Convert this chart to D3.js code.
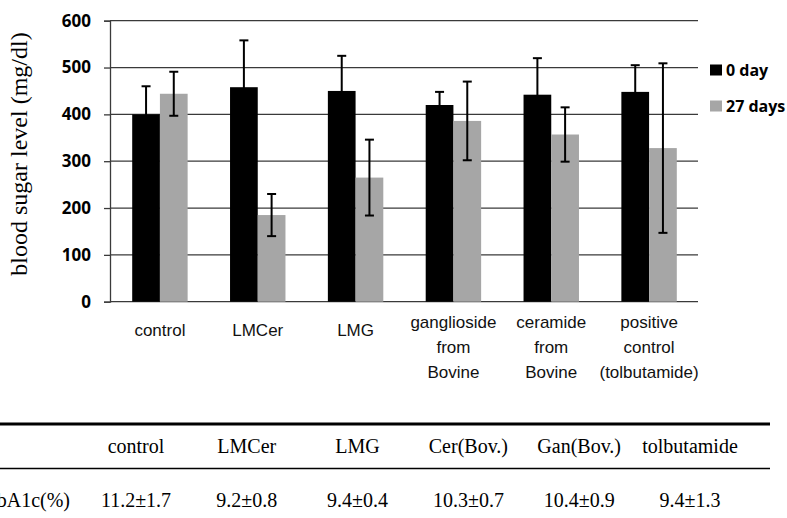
<!DOCTYPE html>
<html>
<head>
  <meta charset="UTF-8">
  <title>Blood sugar level</title>
  <style>
    body { margin: 0; background: #fff; }
    svg { display: block; }
    .tick text { font-family: "Open Sans", sans-serif; font-weight: bold; font-size: 17px; fill: #000; }
    .cat { font-family: "Liberation Sans", Arial, sans-serif; font-size: 17px; fill: #111; }
    .legend { font-family: "Open Sans", sans-serif; font-weight: bold; font-size: 16px; fill: #000; }
    .serif { font-family: "Liberation Serif", "Times New Roman", serif; fill: #000; }
  </style>
</head>
<body>
  <svg></svg>
  <script src="https://d3js.org/d3.v7.min.js"></script>
  <script>
    // chart data
    const categories = ["control", "LMCer", "LMG", "ganglioside from Bovine", "ceramide from Bovine", "positive control (tolbutamide)"];
    const categoryLines = [["control"], ["LMCer"], ["LMG"], ["ganglioside", "from", "Bovine"], ["ceramide", "from", "Bovine"], ["positive", "control", "(tolbutamide)"]];
    const seriesNames = ["0 day", "27 days"];
    const day0 = [400, 458, 450, 420, 442, 448];
    const day0Err = [60, 100, 75, 28, 78, 57];
    const day27 = [444, 185, 265, 386, 357, 328];
    const day27Err = [47, 45, 81, 84, 58, 181];
    const yTicks = [0, 100, 200, 300, 400, 500, 600];
    // HbA1c table
    const tableHeader = ["control", "LMCer", "LMG", "Cer(Bov.)", "Gan(Bov.)", "tolbutamide"];
    const tableValues = ["11.2±1.7", "9.2±0.8", "9.4±0.4", "10.3±0.7", "10.4±0.9", "9.4±1.3"];
    const tableRowLabel = "HbA1c(%)";

    let width = 787, height = 518;
    let svg = d3.select("svg").attr("width", width).attr("height", height);
    let colors = {"0 day": "#000000", "27 days": "#a6a6a6"};

    let y = d3.scaleLinear().domain([0, 600]).range([301.7, 20.7]);
    let x0 = d3.scaleBand().domain(categories).range([111, 698]);
    let x1 = d3.scaleBand().domain(seriesNames).range([0, x0.bandwidth()]).paddingOuter(0.765);

    // gridlines
    svg.append("g")
      .selectAll("line")
      .data(yTicks)
      .enter()
      .append("line")
      .attr("x1", 110).attr("x2", 698)
      .attr("y1", d => y(d)).attr("y2", d => y(d))
      .attr("stroke", "#3a3a3a")
      .attr("stroke-width", 1.3);

    // y axis
    let yAxis = svg.append("g")
      .attr("transform", "translate(110,0)")
      .call(d3.axisLeft(y).tickValues(yTicks).tickSize(6).tickPadding(13));
    yAxis.select(".domain").attr("stroke", "#3a3a3a").attr("stroke-width", 1.3);
    yAxis.selectAll(".tick line").attr("stroke", "#3a3a3a").attr("stroke-width", 1.3);

    svg.append("text")
      .attr("class", "serif")
      .attr("transform", "translate(27,154) rotate(-90)")
      .attr("text-anchor", "middle")
      .style("font-size", "24px")
      .text("blood sugar level (mg/dl)");

    // bars
    let rows = categories.map((c, i) => ({
      cat: c,
      vals: [
        {s: "0 day", v: day0[i], e: day0Err[i]},
        {s: "27 days", v: day27[i], e: day27Err[i]}
      ]
    }));
    let groups = svg.append("g")
      .selectAll("g")
      .data(rows)
      .enter()
      .append("g")
      .attr("transform", d => `translate(${x0(d.cat)},0)`);
    groups.selectAll("rect")
      .data(d => d.vals)
      .enter()
      .append("rect")
      .attr("x", d => x1(d.s))
      .attr("y", d => y(d.v))
      .attr("width", x1.bandwidth())
      .attr("height", d => y(0) - y(d.v))
      .attr("fill", d => colors[d.s]);

    // error bars
    let eb = groups.selectAll("g.err")
      .data(d => d.vals)
      .enter()
      .append("g")
      .attr("class", "err")
      .attr("stroke", "#000")
      .attr("stroke-width", 2);
    let cx = d => x1(d.s) + x1.bandwidth() / 2;
    eb.append("line")
      .attr("x1", cx).attr("x2", cx)
      .attr("y1", d => y(d.v + d.e)).attr("y2", d => y(d.v - d.e));
    eb.append("line")
      .attr("x1", d => cx(d) - 4.5).attr("x2", d => cx(d) + 4.5)
      .attr("y1", d => y(d.v + d.e)).attr("y2", d => y(d.v + d.e));
    eb.append("line")
      .attr("x1", d => cx(d) - 4.5).attr("x2", d => cx(d) + 4.5)
      .attr("y1", d => y(d.v - d.e)).attr("y2", d => y(d.v - d.e));

    // category labels
    let labels = svg.append("g")
      .selectAll("text")
      .data(categories)
      .enter()
      .append("text")
      .attr("class", "cat")
      .attr("text-anchor", "middle")
      .attr("x", d => x0(d) + x0.bandwidth() / 2)
      .attr("y", (d, i) => 336 - (categoryLines[i].length - 1) * 4);
    labels.selectAll("tspan")
      .data((d, i) => categoryLines[i])
      .enter()
      .append("tspan")
      .attr("x", function() { return d3.select(this.parentNode).attr("x"); })
      .attr("dy", (d, j) => j === 0 ? 0 : 25)
      .text(d => d);

    // legend
    let legend = svg.append("g")
      .selectAll("g")
      .data(seriesNames)
      .enter()
      .append("g")
      .attr("transform", (d, i) => `translate(710,${64.5 + i * 36})`);
    legend.append("rect")
      .attr("width", 12).attr("height", 11)
      .attr("fill", d => colors[d]);
    legend.append("text")
      .attr("class", "legend")
      .attr("x", 16).attr("y", 11.5)
      .text(d => d);

    // table
    let colX = d3.scalePoint().domain(tableHeader).range([136, 690]);
    svg.append("line")
      .attr("x1", 0).attr("x2", 770).attr("y1", 424).attr("y2", 424)
      .attr("stroke", "#000").attr("stroke-width", 3);
    svg.append("line")
      .attr("x1", 0).attr("x2", 770).attr("y1", 468.5).attr("y2", 468.5)
      .attr("stroke", "#000").attr("stroke-width", 1.5);
    svg.append("g")
      .selectAll("text")
      .data(tableHeader)
      .enter()
      .append("text")
      .attr("class", "serif")
      .style("font-size", "20px")
      .attr("text-anchor", "middle")
      .attr("x", d => colX(d))
      .attr("y", 453)
      .text(d => d);
    svg.append("g")
      .selectAll("text")
      .data(tableValues)
      .enter()
      .append("text")
      .attr("class", "serif")
      .style("font-size", "20px")
      .attr("text-anchor", "middle")
      .attr("x", (d, i) => colX(tableHeader[i]))
      .attr("y", 507)
      .text(d => d);
    svg.append("text")
      .attr("class", "serif")
      .style("font-size", "20px")
      .attr("text-anchor", "end")
      .attr("x", 70)
      .attr("y", 507)
      .text(tableRowLabel);
  </script>
</body>
</html>
